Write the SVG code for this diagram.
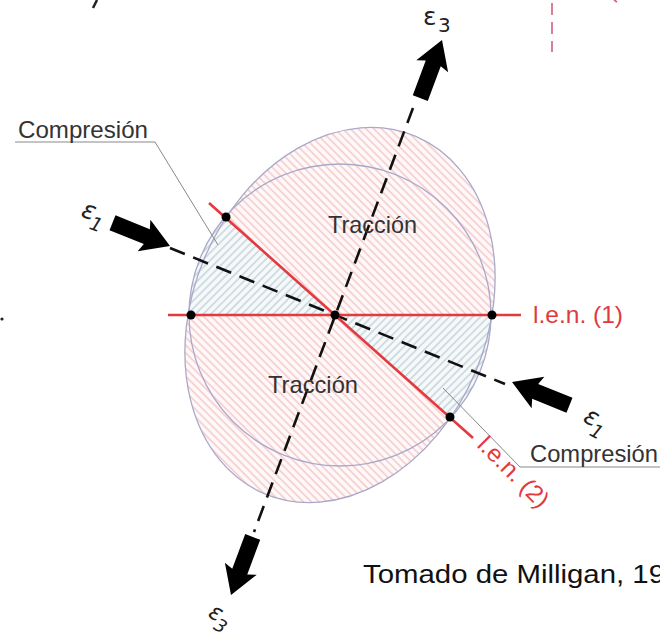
<svg xmlns="http://www.w3.org/2000/svg" width="660" height="641" viewBox="0 0 660 641">
<style>
.lbl{font-family:"Liberation Sans",Arial,sans-serif;fill:#333;font-size:24px}
.red{fill:#e0393e}
.sym{font-family:"DejaVu Sans","Liberation Sans",sans-serif;fill:#222}
.it{font-style:italic}
.outline{fill:none;stroke:#a9a9c9;stroke-width:1.3}
.len{stroke:#e23a3f;stroke-width:2.6;fill:none}
.axis{stroke:#111;stroke-width:2.6;stroke-dasharray:16 9;fill:none}
.leader{stroke:#888;stroke-width:1;fill:none}
.dot{fill:#000}
.arrow{fill:#000}
</style>
<defs>
<pattern id="hPink" patternUnits="userSpaceOnUse" width="10" height="5.5" patternTransform="rotate(45)">
<rect width="10" height="5.5" fill="#fff8f8"/>
<line x1="0" y1="2.75" x2="10" y2="2.75" stroke="#eba3a5" stroke-width="0.85"/>
</pattern>
<pattern id="hBlue" patternUnits="userSpaceOnUse" width="10" height="5.5" patternTransform="rotate(-45)">
<rect width="10" height="5.5" fill="#f5f9fa"/>
<line x1="0" y1="2.75" x2="10" y2="2.75" stroke="#9fb4c0" stroke-width="0.85"/>
</pattern>
<clipPath id="blob">
<circle cx="340" cy="315" r="151"/>
<ellipse cx="340" cy="315" rx="147" ry="194" transform="rotate(23 340 315)"/>
</clipPath>
<path id="arr" d="M0,0 L-28,-17 L-25,-8 L-62,-8 L-62,8 L-25,8 L-28,17 Z"/>
</defs>

<g id="fragments">
<line x1="552" y1="3" x2="552" y2="52" stroke="#d0607a" stroke-width="1.6" stroke-dasharray="12 7"/>
<line x1="614" y1="0" x2="617" y2="2" stroke="#d0607a" stroke-width="1.6"/>
<line x1="97" y1="0" x2="93" y2="8" stroke="#222" stroke-width="2.5"/>
<circle cx="2" cy="319" r="1.6" fill="#222"/>
</g>

<g id="zones" clip-path="url(#blob)">
<polygon id="traccion-top" points="335,315 700,315 700,-200 -200,-200 -113,-84" fill="url(#hPink)"/>
<polygon id="traccion-bottom" points="335,315 -200,315 -200,900 800,900 783,714" fill="url(#hPink)"/>
<polygon id="compresion-left" points="335,315 -113,-84 -200,-84 -200,315" fill="url(#hBlue)"/>
<polygon id="compresion-right" points="335,315 783,714 800,714 800,315" fill="url(#hBlue)"/>
</g>

<g id="circle"><circle class="outline" cx="340" cy="315" r="151"/></g>
<g id="ellipse"><ellipse class="outline" cx="340" cy="315" rx="147" ry="194" transform="rotate(23 340 315)"/></g>

<g id="connectors">
<line class="axis" x1="413" y1="108" x2="254" y2="532"/>
<line class="axis" x1="170" y1="248" x2="505" y2="384"/>
<line class="len" x1="168" y1="315" x2="521" y2="315"/>
<line class="len" x1="209" y1="203" x2="473" y2="438"/>
<polyline class="leader" points="15,142 155,142 218,245"/>
<polyline class="leader" points="660,467 520,467 443,388"/>
<use href="#arr" class="arrow" transform="translate(442,40) rotate(-69.5)"/>
<use href="#arr" class="arrow" transform="translate(231,595) rotate(110.5)"/>
<use href="#arr" class="arrow" transform="translate(170,246) rotate(22)"/>
<use href="#arr" class="arrow" transform="translate(512,382) rotate(202)"/>
</g>

<g id="dots">
<circle class="dot" cx="191" cy="315" r="4.5"/>
<circle class="dot" cx="335" cy="315" r="4.5"/>
<circle class="dot" cx="492" cy="315" r="4.5"/>
<circle class="dot" cx="226" cy="217" r="4.5"/>
<circle class="dot" cx="450" cy="417" r="4.5"/>
</g>

<g id="label-compresion-1"><text class="lbl" x="18" y="138" textLength="130" lengthAdjust="spacingAndGlyphs">Compresión</text></g>
<g id="label-compresion-2"><text class="lbl" x="530" y="462" textLength="128" lengthAdjust="spacingAndGlyphs">Compresión</text></g>
<g id="label-traccion-1"><text class="lbl" x="328" y="233" textLength="89" lengthAdjust="spacingAndGlyphs">Tracción</text></g>
<g id="label-traccion-2"><text class="lbl" x="268" y="393" textLength="90" lengthAdjust="spacingAndGlyphs">Tracción</text></g>
<g id="label-len1"><text class="lbl red" x="533" y="323" textLength="90" lengthAdjust="spacingAndGlyphs">l.e.n. (1)</text></g>
<g id="label-len2"><text class="lbl red" transform="translate(476,446) rotate(45)" x="0" y="0" textLength="90" lengthAdjust="spacingAndGlyphs">l.e.n. (2)</text></g>

<g id="label-e3-top" class="sym">
<text x="423" y="25" font-size="25">ε</text>
<text x="438" y="32" font-size="20">3</text>
</g>
<g id="label-e1-left" class="sym it" transform="translate(80,216) rotate(20)">
<text x="0" y="0" font-size="25">ε</text>
<text x="12" y="9" font-size="19">1</text>
</g>
<g id="label-e1-right" class="sym it" transform="translate(582,421) rotate(28)">
<text x="0" y="0" font-size="25">ε</text>
<text x="12" y="9" font-size="19">1</text>
</g>
<g id="label-e3-bottom" class="sym it" transform="translate(207,616) rotate(30)">
<text x="0" y="0" font-size="23">ε</text>
<text x="11" y="8" font-size="18">3</text>
</g>

<g id="caption"><text x="363" y="583" font-family="'Liberation Sans',Arial,sans-serif" font-size="25" fill="#111" textLength="302" lengthAdjust="spacingAndGlyphs">Tomado de Milligan, 19</text></g>
</svg>
